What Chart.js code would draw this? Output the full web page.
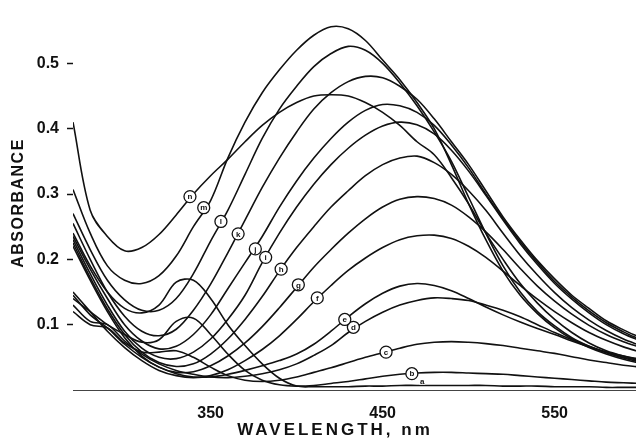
<!DOCTYPE html>
<html>
<head>
<meta charset="utf-8">
<script src="https://cdn.jsdelivr.net/npm/chart.js@4"></script>
<style>
  html, body { margin: 0; padding: 0; background: #fff; }
  #wrap { width: 636px; height: 439px; }
</style>
</head>
<body>
<div id="wrap"><canvas id="spec" width="636" height="439"></canvas></div>
<script>
// wavelength grid (nm) shared by every trace
const wavelengths = [270,280,290,300,310,320,330,340,350,360,370,380,390,400,410,420,430,440,450,460,470,480,490,500,510,520,530,540,550,560,570,580,590,600];

// absorbance, traces a..n
const traceA = [0.24,0.19,0.15,0.125,0.118,0.13,0.165,0.168,0.14,0.1,0.068,0.04,0.018,0.006,0.005,0.005,0.005,0.006,0.006,0.007,0.007,0.007,0.007,0.007,0.007,0.006,0.006,0.006,0.005,0.005,0.005,0.004,0.004,0.004];
const traceB = [0.14,0.12,0.1,0.085,0.073,0.077,0.105,0.11,0.085,0.055,0.03,0.015,0.008,0.006,0.007,0.01,0.013,0.017,0.021,0.024,0.026,0.027,0.027,0.026,0.025,0.024,0.022,0.02,0.018,0.016,0.014,0.012,0.011,0.01];
const traceC = [0.12,0.1,0.095,0.072,0.058,0.058,0.06,0.05,0.035,0.022,0.015,0.013,0.015,0.02,0.027,0.034,0.042,0.05,0.057,0.064,0.07,0.073,0.074,0.073,0.071,0.068,0.064,0.06,0.056,0.051,0.046,0.042,0.038,0.035];
const traceD = [0.13,0.105,0.1,0.075,0.055,0.04,0.03,0.024,0.02,0.019,0.021,0.025,0.031,0.04,0.053,0.068,0.088,0.105,0.119,0.13,0.137,0.141,0.14,0.137,0.13,0.122,0.112,0.1,0.088,0.077,0.067,0.058,0.05,0.045];
const traceE = [0.145,0.115,0.095,0.07,0.05,0.035,0.025,0.02,0.02,0.024,0.03,0.037,0.045,0.055,0.07,0.09,0.112,0.132,0.148,0.159,0.163,0.16,0.152,0.14,0.127,0.115,0.104,0.094,0.085,0.075,0.066,0.058,0.052,0.047];
const traceF = [0.15,0.12,0.09,0.065,0.045,0.03,0.022,0.019,0.022,0.031,0.045,0.062,0.083,0.108,0.135,0.16,0.183,0.202,0.218,0.23,0.236,0.237,0.232,0.22,0.203,0.182,0.16,0.139,0.12,0.103,0.088,0.076,0.066,0.058];
const traceG = [0.22,0.168,0.12,0.08,0.052,0.035,0.027,0.028,0.037,0.052,0.072,0.097,0.126,0.157,0.188,0.215,0.24,0.262,0.28,0.292,0.296,0.293,0.283,0.265,0.242,0.215,0.186,0.159,0.136,0.116,0.099,0.085,0.074,0.065];
const traceH = [0.225,0.172,0.124,0.085,0.058,0.042,0.036,0.04,0.055,0.078,0.108,0.143,0.182,0.218,0.25,0.28,0.305,0.328,0.345,0.355,0.358,0.348,0.33,0.305,0.275,0.24,0.206,0.176,0.149,0.126,0.107,0.091,0.078,0.068];
const traceI = [0.23,0.178,0.13,0.09,0.064,0.05,0.048,0.058,0.078,0.108,0.145,0.195,0.24,0.28,0.315,0.345,0.37,0.39,0.404,0.41,0.406,0.392,0.367,0.335,0.298,0.26,0.224,0.192,0.163,0.139,0.118,0.1,0.086,0.075];
const traceJ = [0.235,0.185,0.14,0.1,0.075,0.063,0.067,0.085,0.115,0.155,0.195,0.235,0.28,0.32,0.355,0.385,0.41,0.428,0.437,0.435,0.425,0.405,0.375,0.34,0.3,0.262,0.227,0.195,0.166,0.142,0.121,0.103,0.089,0.077];
const traceK = [0.255,0.2,0.15,0.113,0.09,0.083,0.093,0.122,0.162,0.21,0.26,0.31,0.355,0.395,0.43,0.455,0.472,0.48,0.478,0.465,0.445,0.415,0.38,0.345,0.305,0.265,0.23,0.198,0.17,0.145,0.125,0.106,0.092,0.08];
const traceL = [0.27,0.215,0.168,0.138,0.122,0.122,0.14,0.178,0.228,0.275,0.33,0.385,0.43,0.465,0.495,0.515,0.526,0.52,0.5,0.47,0.435,0.395,0.35,0.295,0.24,0.19,0.15,0.12,0.098,0.08,0.067,0.057,0.049,0.043];
const traceM = [0.307,0.24,0.19,0.168,0.163,0.175,0.205,0.25,0.29,0.355,0.41,0.455,0.49,0.52,0.543,0.556,0.553,0.535,0.505,0.475,0.44,0.40,0.345,0.285,0.23,0.182,0.145,0.117,0.095,0.078,0.065,0.055,0.047,0.041];
const traceN = [0.41,0.275,0.235,0.213,0.218,0.238,0.268,0.300,0.328,0.353,0.38,0.405,0.425,0.44,0.45,0.452,0.45,0.44,0.425,0.405,0.38,0.36,0.325,0.285,0.24,0.2,0.163,0.133,0.108,0.088,0.072,0.06,0.052,0.046];

const traceNames = ['a','b','c','d','e','f','g','h','i','j','k','l','m','n'];
const traces = [traceA,traceB,traceC,traceD,traceE,traceF,traceG,traceH,traceI,traceJ,traceK,traceL,traceM,traceN];

// where the circled letters sit (nm, absorbance)
const labelWl  = [473,467,452,433,428,412,401,391,382,376,366,356,346,338];
const labelAbs = [0.013,0.025,0.058,0.096,0.108,0.141,0.161,0.185,0.203,0.216,0.239,0.258,0.279,0.296];

const xTicks = [350,450,550];
const yTicks = [0.1,0.2,0.3,0.4,0.5];

const INK = '#111';

const datasets = traces.map((t, k) => ({
  label: traceNames[k],
  data: wavelengths.map((w, i) => ({ x: w, y: t[i] })),
  borderColor: INK,
  borderWidth: 1.6,
  pointRadius: 0,
  fill: false,
  tension: 0.35
}));

// circled letters + axis titles
const decor = {
  id: 'decor',
  afterDatasetsDraw(chart){
    const {ctx, scales:{x, y}} = chart;
    ctx.save();
    traceNames.forEach((name, k) => {
      const px = x.getPixelForValue(labelWl[k]);
      const py = y.getPixelForValue(labelAbs[k]);
      ctx.font = 'bold 8px "Liberation Sans", Arial, sans-serif';
      ctx.textAlign = 'center'; ctx.textBaseline = 'middle';
      if(name === 'a'){
        ctx.fillStyle = '#fff';
        ctx.fillRect(px-3, py-3, 6, 6);
        ctx.fillStyle = INK;
        ctx.fillText(name, px, py);
        return;
      }
      ctx.beginPath();
      ctx.arc(px, py, 6, 0, Math.PI*2);
      ctx.fillStyle = '#fff';
      ctx.fill();
      ctx.lineWidth = 1.3;
      ctx.strokeStyle = INK;
      ctx.stroke();
      ctx.fillStyle = INK;
      ctx.fillText(name, px, py+0.5);
    });
    ctx.restore();
  },
  afterDraw(chart){
    const {ctx} = chart;
    ctx.save();
    ctx.fillStyle = INK;
    ctx.textAlign = 'center'; ctx.textBaseline = 'middle';
    ctx.font = 'bold 16px "Liberation Sans", Arial, sans-serif';
    ctx.letterSpacing = '1.5px';
    ctx.translate(19, 203);
    ctx.rotate(-Math.PI/2);
    ctx.fillText('ABSORBANCE', 0, 0);
    ctx.restore();

    ctx.save();
    ctx.fillStyle = INK;
    ctx.textAlign = 'center'; ctx.textBaseline = 'middle';
    ctx.font = 'bold 17px "Liberation Sans", Arial, sans-serif';
    ctx.letterSpacing = '3px';
    ctx.fillText('WAVELENGTH, nm', 335, 430);
    ctx.restore();
  }
};

new Chart(document.getElementById('spec'), {
  type: 'line',
  data: { datasets },
  options: {
    responsive: false,
    animation: false,
    layout: { padding: { top: 5, right: 0, left: 0, bottom: 0 } },
    plugins: { legend: { display: false }, tooltip: { enabled: false } },
    scales: {
      x: {
        type: 'linear',
        min: 270, max: 597.3,
        afterBuildTicks: s => { s.ticks = xTicks.map(v => ({ value: v })); },
        afterFit: s => { s.height = 49; },
        grid: { display: false, drawTicks: false },
        border: { display: true, color: '#444', width: 1, dash: [34, 10, 3, 6, 14, 5] },
        ticks: { color: INK, padding: 14, maxRotation: 0, font: { size: 16, weight: 'bold', family: '"Liberation Sans", Arial, sans-serif' } }
      },
      y: {
        min: 0, max: 0.57,
        afterBuildTicks: s => { s.ticks = yTicks.map(v => ({ value: v })); },
        afterFit: s => { s.width = 73; },
        grid: { drawOnChartArea: false, drawTicks: true, tickLength: 6, tickWidth: 1.5, tickColor: INK },
        border: { display: false },
        ticks: { color: INK, padding: 8, callback: v => v.toFixed(1), font: { size: 16, weight: 'bold', family: '"Liberation Sans", Arial, sans-serif' } }
      }
    }
  },
  plugins: [decor]
});
</script>
</body>
</html>
